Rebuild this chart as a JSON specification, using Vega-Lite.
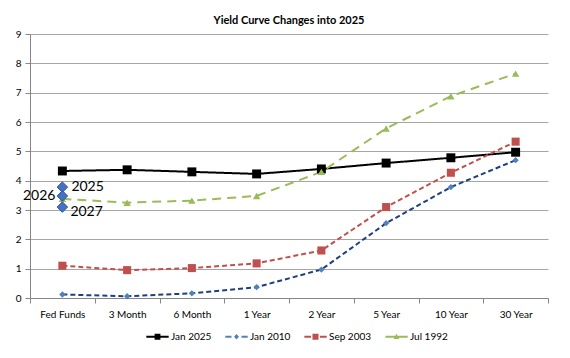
{
  "$schema": "https://vega.github.io/schema/vega-lite/v6.json",
  "width": 518,
  "height": 264,
  "autosize": {"type": "pad"},
  "padding": {"left": 15, "top": 15, "right": 25, "bottom": 5},
  "background": "white",
  "title": {"text": "Yield Curve Changes into 2025", "font": "Lato", "fontSize": 11, "fontWeight": "bold", "color": "#000", "offset": 3},
  "config": {
    "font": "Lato",
    "view": {"stroke": null},
    "axis": {"labelFont": "Lato", "labelFontSize": 10, "labelColor": "#000", "domainColor": "#868686", "tickColor": "#868686", "gridColor": "#a6a6a6", "tickSize": 5}
  },
  "datasets": {
    "curves": [
      {"series": "Jan 2025", "tenor": "Fed Funds", "yield": 4.33},
      {"series": "Jan 2025", "tenor": "3 Month", "yield": 4.37},
      {"series": "Jan 2025", "tenor": "6 Month", "yield": 4.30},
      {"series": "Jan 2025", "tenor": "1 Year", "yield": 4.23},
      {"series": "Jan 2025", "tenor": "2 Year", "yield": 4.40},
      {"series": "Jan 2025", "tenor": "5 Year", "yield": 4.60},
      {"series": "Jan 2025", "tenor": "10 Year", "yield": 4.78},
      {"series": "Jan 2025", "tenor": "30 Year", "yield": 4.97},
      {"series": "Jan 2010", "tenor": "Fed Funds", "yield": 0.12},
      {"series": "Jan 2010", "tenor": "3 Month", "yield": 0.06},
      {"series": "Jan 2010", "tenor": "6 Month", "yield": 0.16},
      {"series": "Jan 2010", "tenor": "1 Year", "yield": 0.37},
      {"series": "Jan 2010", "tenor": "2 Year", "yield": 0.97},
      {"series": "Jan 2010", "tenor": "5 Year", "yield": 2.55},
      {"series": "Jan 2010", "tenor": "10 Year", "yield": 3.78},
      {"series": "Jan 2010", "tenor": "30 Year", "yield": 4.70},
      {"series": "Sep 2003", "tenor": "Fed Funds", "yield": 1.10},
      {"series": "Sep 2003", "tenor": "3 Month", "yield": 0.95},
      {"series": "Sep 2003", "tenor": "6 Month", "yield": 1.02},
      {"series": "Sep 2003", "tenor": "1 Year", "yield": 1.18},
      {"series": "Sep 2003", "tenor": "2 Year", "yield": 1.62},
      {"series": "Sep 2003", "tenor": "5 Year", "yield": 3.10},
      {"series": "Sep 2003", "tenor": "10 Year", "yield": 4.27},
      {"series": "Sep 2003", "tenor": "30 Year", "yield": 5.33},
      {"series": "Jul 1992", "tenor": "Fed Funds", "yield": 3.38},
      {"series": "Jul 1992", "tenor": "3 Month", "yield": 3.25},
      {"series": "Jul 1992", "tenor": "6 Month", "yield": 3.32},
      {"series": "Jul 1992", "tenor": "1 Year", "yield": 3.48},
      {"series": "Jul 1992", "tenor": "2 Year", "yield": 4.30},
      {"series": "Jul 1992", "tenor": "5 Year", "yield": 5.78},
      {"series": "Jul 1992", "tenor": "10 Year", "yield": 6.88},
      {"series": "Jul 1992", "tenor": "30 Year", "yield": 7.65}
    ],
    "dots": [
      {"year": "2025", "tenor": "Fed Funds", "yield": 3.78},
      {"year": "2026", "tenor": "Fed Funds", "yield": 3.48},
      {"year": "2027", "tenor": "Fed Funds", "yield": 3.1}
    ]
  },
  "encoding": {
    "x": {"field": "tenor", "type": "nominal", "sort": ["Fed Funds", "3 Month", "6 Month", "1 Year", "2 Year", "5 Year", "10 Year", "30 Year"],
      "scale": {"type": "band", "paddingInner": 0, "paddingOuter": 0},
      "axis": {"title": null, "labelAngle": 0, "tickBand": "extent", "labelPadding": 6}},
    "y": {"field": "yield", "type": "quantitative", "scale": {"domain": [0, 9]},
      "axis": {"title": null, "values": [0, 1, 2, 3, 4, 5, 6, 7, 8, 9], "labelPadding": 4}}
  },
  "layer": [
    {
      "data": {"name": "curves"},
      "mark": {"type": "line", "strokeWidth": 2},
      "encoding": {
        "color": {"field": "series", "type": "nominal", "sort": ["Jan 2025", "Jan 2010", "Sep 2003", "Jul 1992"], "scale": {"domain": ["Jan 2025", "Jan 2010", "Sep 2003", "Jul 1992"], "range": ["#000000", "#1f3f7f", "#c0504d", "#9bbb59"]},
          "legend": {"title": null, "orient": "none", "legendX": 116, "legendY": 291, "direction": "horizontal", "labelFont": "Lato", "labelFontSize": 10, "labelColor": "#000", "symbolSize": 500, "labelOffset": 2, "columnPadding": 13,
            "encode": {"symbols": {"update": {
              "shape": {"signal": "datum.value == 'Jan 2025' ? 'M-1,-0.09H1V0.09H-1Z M-0.26,-0.26H0.26V0.26H-0.26Z' : datum.value == 'Jan 2010' ? 'M-1,-0.09H-0.45V0.09H-1Z M0.45,-0.09H1V0.09H0.45Z M0,-0.25L0.22,0L0,0.25L-0.22,0Z' : datum.value == 'Sep 2003' ? 'M-1,-0.09H-0.4V0.09H-1Z M0.4,-0.09H1V0.09H0.4Z M-0.27,-0.27H0.27V0.27H-0.27Z' : 'M-1,-0.09H1V0.09H-1Z M0,-0.26L0.26,0.2H-0.26Z'"},
              "fill": {"scale": "color", "field": "value"},
              "stroke": {"value": "transparent"},
              "strokeWidth": {"value": 0},
              "strokeDash": {"value": [1, 0]}
            }}}}},
        "strokeDash": {"field": "series", "type": "nominal", "scale": {"domain": ["Jan 2025", "Jan 2010", "Sep 2003", "Jul 1992"], "range": [[1, 0], [5, 3], [5, 3], [9, 6]]}, "legend": null}
      }
    },
    {
      "data": {"name": "curves"},
      "mark": {"type": "point", "filled": true, "opacity": 1, "stroke": null},
      "encoding": {
        "fill": {"field": "series", "type": "nominal", "scale": {"domain": ["Jan 2025", "Jan 2010", "Sep 2003", "Jul 1992"], "range": ["#000000", "#4f81bd", "#c0504d", "#9bbb59"]}, "legend": null},
        "shape": {"condition": [{"test": "datum.series == 'Jan 2010'", "value": "diamond"}, {"test": "datum.series == 'Jul 1992'", "value": "triangle-up"}], "value": "square"},
        "size": {"condition": [{"test": "datum.series == 'Jan 2025'", "value": 80}, {"test": "datum.series == 'Jan 2010'", "value": 40}, {"test": "datum.series == 'Sep 2003'", "value": 65}], "value": 55}
      }
    },
    {
      "data": {"name": "dots"},
      "mark": {"type": "point", "shape": "diamond", "filled": true, "fill": "#4472c4", "stroke": "#2f528f", "strokeWidth": 1, "size": 110, "opacity": 1}
    },
    {
      "data": {"name": "dots"},
      "transform": [{"filter": "datum.year == '2025'"}],
      "mark": {"type": "text", "align": "left", "baseline": "middle", "dx": 9, "dy": 0, "fontSize": 14, "font": "Lato", "color": "#000"},
      "encoding": {"text": {"field": "year"}}
    },
    {
      "data": {"name": "dots"},
      "transform": [{"filter": "datum.year == '2026'"}],
      "mark": {"type": "text", "align": "right", "baseline": "middle", "dx": -7, "dy": 0, "fontSize": 14, "font": "Lato", "color": "#000"},
      "encoding": {"text": {"field": "year"}}
    },
    {
      "data": {"name": "dots"},
      "transform": [{"filter": "datum.year == '2027'"}],
      "mark": {"type": "text", "align": "left", "baseline": "middle", "dx": 8, "dy": 5, "fontSize": 14, "font": "Lato", "color": "#000"},
      "encoding": {"text": {"field": "year"}}
    }
  ]
}
